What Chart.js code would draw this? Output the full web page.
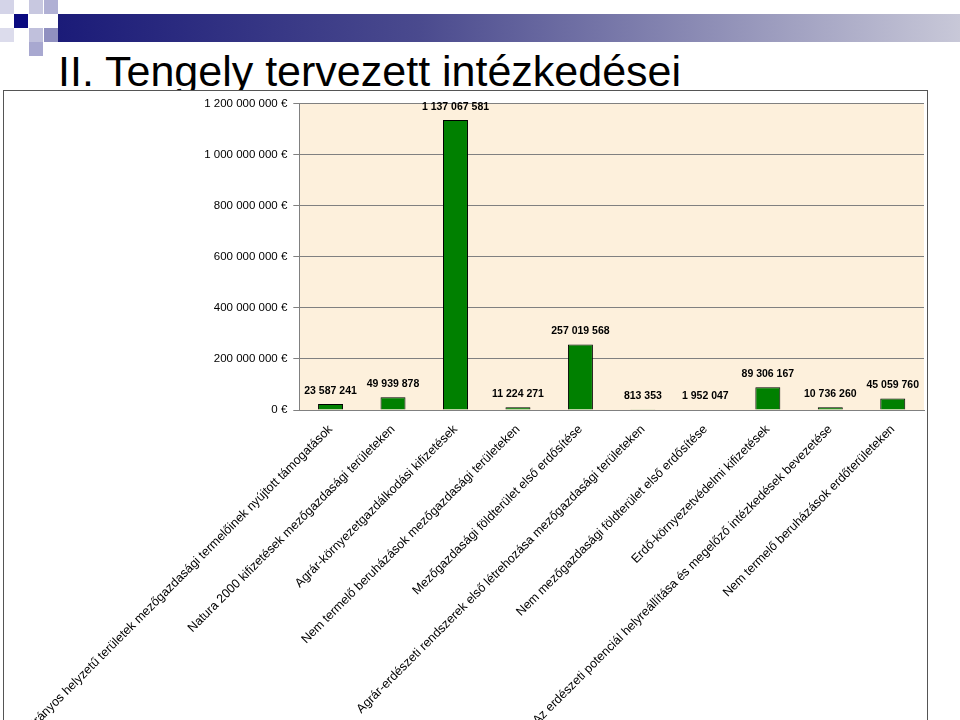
<!DOCTYPE html>
<html>
<head>
<meta charset="utf-8">
<script src="https://cdn.jsdelivr.net/npm/chart.js@4"></script>
<style>
  body { margin: 0; width: 960px; height: 720px; background: #fff; position: relative; overflow: hidden; font-family: "Liberation Sans", Arial, sans-serif; }
  .bar { position: absolute; left: 58px; top: 14px; width: 902px; height: 28px; background: linear-gradient(to right, #1b1b78, #4a4a8e 40%, #c8c8d8 100%); }
  .sq { position: absolute; width: 14px; height: 14px; }
  h1 { position: absolute; left: 58px; top: 47px; margin: 0; font-weight: normal; font-size: 43px; }
  #wrap { position: absolute; left: 3px; top: 90px; width: 925px; height: 630px; border: 1px solid #555; border-bottom: none; box-sizing: border-box; background: #fff; }
</style>
</head>
<body>
<div class="bar"></div>
<div class="sq" style="left:14px;top:14px;background:#0a0a80"></div>
<div class="sq" style="left:0;top:0;background:#d4d4e8"></div>
<div class="sq" style="left:29px;top:0;background:#c8c8e0"></div>
<div class="sq" style="left:44px;top:0;background:#b0b0d4"></div>
<div class="sq" style="left:0;top:28px;background:#dcdcec"></div>
<div class="sq" style="left:29px;top:28px;background:#c0c0dc"></div>
<div class="sq" style="left:44px;top:28px;background:#9090c0"></div>
<div class="sq" style="left:29px;top:42px;background:#a8a8d0"></div>
<h1>II. Tengely tervezett intézkedései</h1>
<div id="wrap"><canvas id="c"></canvas></div>
<script>
const categories = [
  'Hátrányos helyzetű területek mezőgazdasági termelőinek nyújtott támogatások',
  'Natura 2000 kifizetések mezőgazdasági területeken',
  'Agrár-környezetgazdálkodási kifizetések',
  'Nem termelő beruházások mezőgazdasági területeken',
  'Mezőgazdasági földterület első erdősítése',
  'Agrár-erdészeti rendszerek első létrehozása mezőgazdasági területeken',
  'Nem mezőgazdasági földterület első erdősítése',
  'Erdő-környezetvédelmi kifizetések',
  'Az erdészeti potenciál helyreállítása és megelőző intézkedések bevezetése',
  'Nem termelő beruházások erdőterületeken'
];
const values = [23587241, 49939878, 1137067581, 11224271, 257019568, 813353, 1952047, 89306167, 10736260, 45059760];

const fmt = v => String(Math.round(v)).replace(/\B(?=(\d{3})+(?!\d))/g, ' ');

const bgPlugin = {
  id: 'bg',
  beforeDraw(chart) {
    const { ctx, chartArea: a } = chart;
    ctx.save();
    ctx.fillStyle = '#fdf0dc';
    ctx.fillRect(a.left, a.top, a.right - a.left, a.bottom - a.top);
    ctx.restore();
  }
};

const labelPlugin = {
  id: 'vals',
  afterDatasetsDraw(chart) {
    const { ctx } = chart;
    const meta = chart.getDatasetMeta(0);
    ctx.save();
    ctx.font = 'bold 10.5px "Liberation Sans", Arial';
    ctx.fillStyle = '#000';
    ctx.textAlign = 'center';
    ctx.textBaseline = 'bottom';
    meta.data.forEach((bar, i) => {
      ctx.fillText(fmt(values[i]), bar.x, bar.y - 8);
    });
    ctx.restore();
  }
};

new Chart(document.getElementById('c'), {
  type: 'bar',
  data: {
    labels: categories,
    datasets: [{
      data: values,
      backgroundColor: '#008000',
      borderColor: '#000',
      borderWidth: 1,
      barPercentage: 0.4,
      categoryPercentage: 1
    }]
  },
  plugins: [bgPlugin, labelPlugin],
  options: {
    responsive: true,
    maintainAspectRatio: false,
    animation: false,
    layout: { padding: { top: 10, right: 3 } },
    plugins: { legend: { display: false }, tooltip: { enabled: false } },
    scales: {
      x: {
        afterFit: s => { s.height = 310; },
        grid: { display: false },
        border: { color: '#808080' },
        ticks: { minRotation: 45, maxRotation: 45, autoSkip: false, padding: 4, color: '#000', font: { size: 12.5, family: '"Liberation Sans", Arial' } }
      },
      y: {
        min: 0, max: 1200000000,
        afterFit: s => { s.width = 280; },
        ticks: { stepSize: 200000000, color: '#000', padding: 6, font: { size: 11.5, family: '"Liberation Sans", Arial' }, callback: v => fmt(v) + ' €' },
        grid: { color: '#808080', tickLength: 6 },
        border: { color: '#808080' }
      }
    }
  }
});
</script>
</body>
</html>
